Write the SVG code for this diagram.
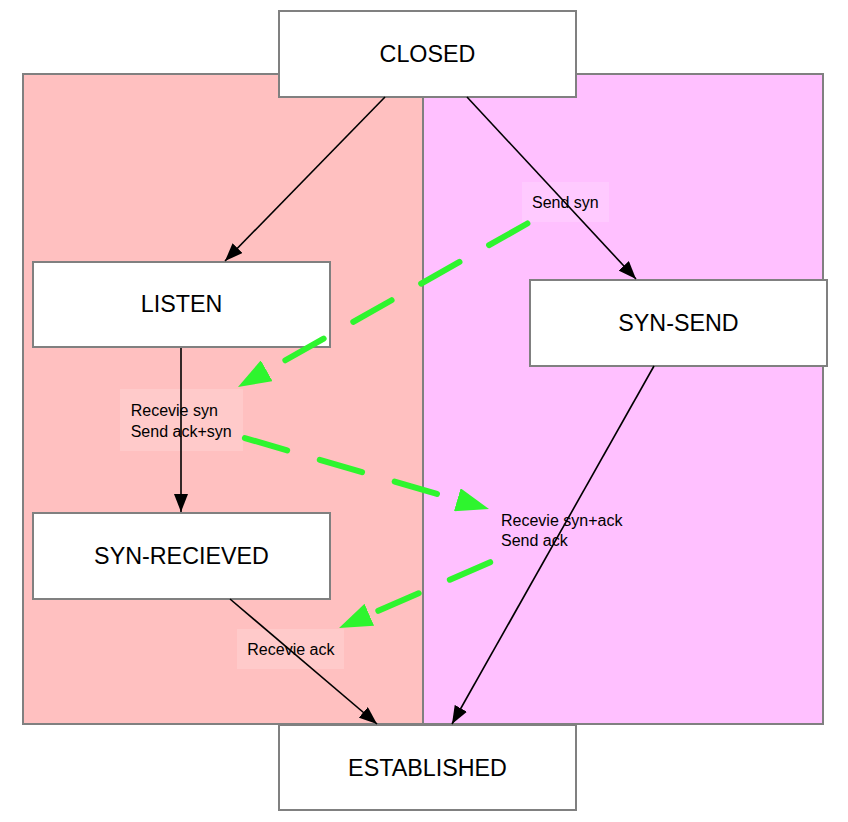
<svg xmlns="http://www.w3.org/2000/svg" width="848" height="822" viewBox="0 0 848 822">
<defs>
<style>
.panel{stroke:#808080;stroke-width:2}
.node rect{fill:#ffffff;stroke:#808080;stroke-width:2}
.node text{font-family:"Liberation Sans",Arial,Helvetica,sans-serif;font-size:23.3px;fill:#000;text-anchor:middle}
.edge{fill:none;stroke:#000;stroke-width:1.6}
.msg{fill:none;stroke:#2ef52e;stroke-width:6;stroke-linecap:round;stroke-dasharray:44 34}
.lbl{font-family:"Liberation Sans",Arial,Helvetica,sans-serif;font-size:16px;fill:#000}
.lblbg{fill:#ffffff;fill-opacity:0.16}
</style>
<marker id="arr" viewBox="0 0 18 14" refX="18" refY="7" markerWidth="18" markerHeight="14" markerUnits="userSpaceOnUse" orient="auto">
<path d="M0,0 L18,7 L0,14 z" fill="#000"/>
</marker>
<marker id="garr" viewBox="0 0 33 24" refX="0" refY="12" markerWidth="33" markerHeight="24" markerUnits="userSpaceOnUse" orient="auto">
<path d="M0,0 L33,12 L0,24 z" fill="#2ef52e"/>
</marker>
</defs>
<rect width="848" height="822" fill="#ffffff"/>
<g id="panels">
<rect id="panel-server" class="panel" x="23" y="74" width="400" height="650" fill="#ffc0c0"/>
<rect id="panel-client" class="panel" x="423" y="74" width="400" height="650" fill="#ffc0ff"/>
</g>
<g id="label-backgrounds">
<rect class="lblbg" x="522" y="182" width="87" height="40"/>
<rect class="lblbg" x="120" y="389" width="123" height="62"/>
<rect class="lblbg" x="237" y="629" width="107" height="40"/>
</g>
<g id="node-closed" class="node"><rect x="279" y="11" width="297" height="86"/><text x="427.5" y="62">CLOSED</text></g>
<g id="node-listen" class="node"><rect x="33" y="262" width="297" height="85"/><text x="181.5" y="312">LISTEN</text></g>
<g id="node-syn-send" class="node"><rect x="530" y="280" width="297" height="86"/><text x="678.5" y="331">SYN-SEND</text></g>
<g id="node-syn-recieved" class="node"><rect x="33" y="513" width="297" height="86"/><text x="181.5" y="564">SYN-RECIEVED</text></g>
<g id="node-established" class="node"><rect x="279" y="725" width="297" height="85"/><text x="427.5" y="775.5">ESTABLISHED</text></g>
<g id="connectors">
<path class="edge" d="M385,97 L225,261" marker-end="url(#arr)"/>
<path class="edge" d="M467,97 L636,279" marker-end="url(#arr)"/>
<path class="edge" d="M181,348 L181,512" marker-end="url(#arr)"/>
<path class="edge" d="M230,599 L377,724" marker-end="url(#arr)"/>
<path class="edge" d="M654,366 L452,724" marker-end="url(#arr)"/>
<path class="msg" d="M527.4,223.5 L266.7,370.8" marker-end="url(#garr)"/>
<path class="msg" d="M244.9,438.1 L457.3,499.8" marker-end="url(#garr)"/>
<path class="msg" d="M490.2,562.2 L369.3,614.8" marker-end="url(#garr)"/>
</g>
<g id="labels">
<text class="lbl" x="532" y="207.7">Send syn</text>
<text class="lbl" x="130.7" y="415.7">Recevie syn</text>
<text class="lbl" x="130.7" y="436.7">Send ack+syn</text>
<text class="lbl" x="501" y="525.7">Recevie syn+ack</text>
<text class="lbl" x="501" y="546">Send ack</text>
<text class="lbl" x="247.3" y="655">Recevie ack</text>
</g>
</svg>
